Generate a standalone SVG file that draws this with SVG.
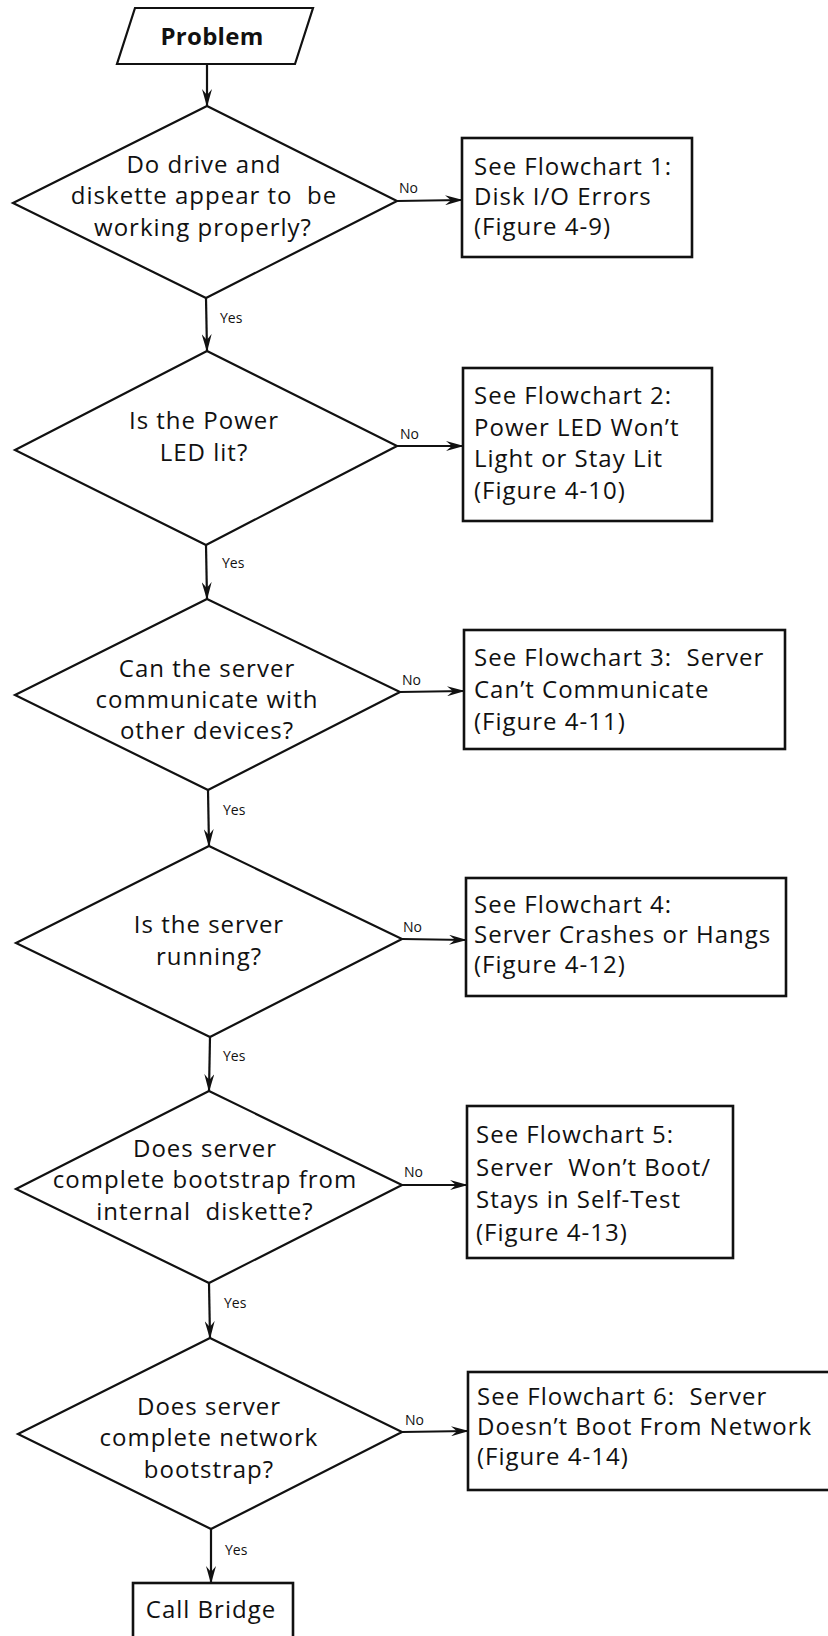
<svg xmlns="http://www.w3.org/2000/svg" width="828" height="1636" viewBox="0 0 828 1636">
<style>
.shape{fill:#fff;stroke:#111;stroke-width:2.2;stroke-linejoin:miter}
.box{fill:#fff;stroke:#111;stroke-width:2.6}
.t{font-family:"Open Sans","Liberation Sans",sans-serif;font-size:24px;fill:#111;letter-spacing:1px}
.c{text-anchor:middle}
.b{font-weight:bold;letter-spacing:0.3px}
.lbl{font-family:"Open Sans","Liberation Sans",sans-serif;font-size:14px;fill:#111}
.edge{fill:none;stroke:#111;stroke-width:2.2;marker-end:url(#ah)}
</style>
<defs>
<marker id="ah" viewBox="0 0 18 10" refX="17" refY="5" markerWidth="18" markerHeight="10" markerUnits="userSpaceOnUse" orient="auto">
<path d="M0,0 L18,5 L0,10 L6,5 z" fill="#111"/>
</marker>
</defs>
<rect width="828" height="1636" fill="#fff"/>

<g id="connectors">
<line class="edge" x1="207" y1="64" x2="207" y2="106"/>
<line class="edge" x1="206" y1="298" x2="207" y2="351"/>
<line class="edge" x1="206" y1="545" x2="207" y2="599"/>
<line class="edge" x1="208" y1="790" x2="209" y2="846"/>
<line class="edge" x1="210" y1="1037" x2="209" y2="1091"/>
<line class="edge" x1="209" y1="1283" x2="210" y2="1338"/>
<line class="edge" x1="211" y1="1529" x2="211" y2="1583"/>
<line class="edge" x1="397" y1="201" x2="462" y2="200"/>
<line class="edge" x1="397" y1="446" x2="463" y2="446"/>
<line class="edge" x1="400" y1="692" x2="464" y2="691"/>
<line class="edge" x1="402" y1="939" x2="466" y2="940"/>
<line class="edge" x1="402" y1="1185" x2="467" y2="1185"/>
<line class="edge" x1="402" y1="1432" x2="468" y2="1431"/>
<text class="lbl" x="220" y="323">Yes</text>
<text class="lbl" x="222" y="568">Yes</text>
<text class="lbl" x="223" y="815">Yes</text>
<text class="lbl" x="223" y="1061">Yes</text>
<text class="lbl" x="224" y="1308">Yes</text>
<text class="lbl" x="225" y="1555">Yes</text>
<text class="lbl" x="399" y="193">No</text>
<text class="lbl" x="400" y="439">No</text>
<text class="lbl" x="402" y="685">No</text>
<text class="lbl" x="403" y="932">No</text>
<text class="lbl" x="404" y="1177">No</text>
<text class="lbl" x="405" y="1425">No</text>
</g>

<g id="problem">
<polygon class="shape" points="135,8 313,8 295,64 117,64"/>
<text class="t c b" x="212" y="45">Problem</text>
</g>

<g id="q1">
<polygon class="shape" points="207,106 397,201 206,298 13,203"/>
<text class="t c" x="204" y="173">Do drive and</text>
<text class="t c" x="204" y="204" xml:space="preserve">diskette appear to  be</text>
<text class="t c" x="203" y="236">working properly?</text>
</g>

<g id="f1">
<rect class="box" x="462" y="138" width="230" height="119"/>
<text class="t" x="474" y="175">See Flowchart 1:</text>
<text class="t" x="474" y="205">Disk I/O Errors</text>
<text class="t" x="474" y="235">(Figure 4-9)</text>
</g>

<g id="q2">
<polygon class="shape" points="207,351 397,446 206,545 15,450"/>
<text class="t c" x="204" y="429">Is the Power</text>
<text class="t c" x="204" y="461">LED lit?</text>
</g>

<g id="f2">
<rect class="box" x="463" y="368" width="249" height="153"/>
<text class="t" x="474" y="404">See Flowchart 2:</text>
<text class="t" x="474" y="436">Power LED Won’t</text>
<text class="t" x="474" y="467">Light or Stay Lit</text>
<text class="t" x="474" y="499">(Figure 4-10)</text>
</g>

<g id="q3">
<polygon class="shape" points="207,599 400,692 208,790 15,695"/>
<text class="t c" x="207" y="677">Can the server</text>
<text class="t c" x="207" y="708">communicate with</text>
<text class="t c" x="207" y="739">other devices?</text>
</g>

<g id="f3">
<rect class="box" x="464" y="630" width="321" height="119"/>
<text class="t" x="474" y="666" xml:space="preserve">See Flowchart 3:  Server</text>
<text class="t" x="474" y="698">Can’t Communicate</text>
<text class="t" x="474" y="730">(Figure 4-11)</text>
</g>

<g id="q4">
<polygon class="shape" points="209,846 402,939 210,1037 16,943"/>
<text class="t c" x="209" y="933">Is the server</text>
<text class="t c" x="209" y="965">running?</text>
</g>

<g id="f4">
<rect class="box" x="466" y="878" width="320" height="118"/>
<text class="t" x="474" y="913">See Flowchart 4:</text>
<text class="t" x="474" y="943">Server Crashes or Hangs</text>
<text class="t" x="474" y="973">(Figure 4-12)</text>
</g>

<g id="q5">
<polygon class="shape" points="209,1091 402,1185 209,1283 16,1189"/>
<text class="t c" x="205" y="1157">Does server</text>
<text class="t c" x="205" y="1188">complete bootstrap from</text>
<text class="t c" x="205" y="1220" xml:space="preserve">internal  diskette?</text>
</g>

<g id="f5">
<rect class="box" x="467" y="1106" width="266" height="152"/>
<text class="t" x="476" y="1143">See Flowchart 5:</text>
<text class="t" x="476" y="1176" xml:space="preserve">Server  Won’t Boot/</text>
<text class="t" x="476" y="1208">Stays in Self-Test</text>
<text class="t" x="476" y="1241">(Figure 4-13)</text>
</g>

<g id="q6">
<polygon class="shape" points="210,1338 402,1432 211,1529 18,1434"/>
<text class="t c" x="209" y="1415">Does server</text>
<text class="t c" x="209" y="1446">complete network</text>
<text class="t c" x="209" y="1478">bootstrap?</text>
</g>

<g id="f6">
<rect class="box" x="468" y="1372" width="370" height="118"/>
<text class="t" x="477" y="1405" xml:space="preserve">See Flowchart 6:  Server</text>
<text class="t" x="477" y="1435">Doesn’t Boot From Network</text>
<text class="t" x="477" y="1465">(Figure 4-14)</text>
</g>

<g id="callbridge">
<rect class="box" x="133" y="1583" width="160" height="70"/>
<text class="t c" x="211" y="1618">Call Bridge</text>
</g>
</svg>
